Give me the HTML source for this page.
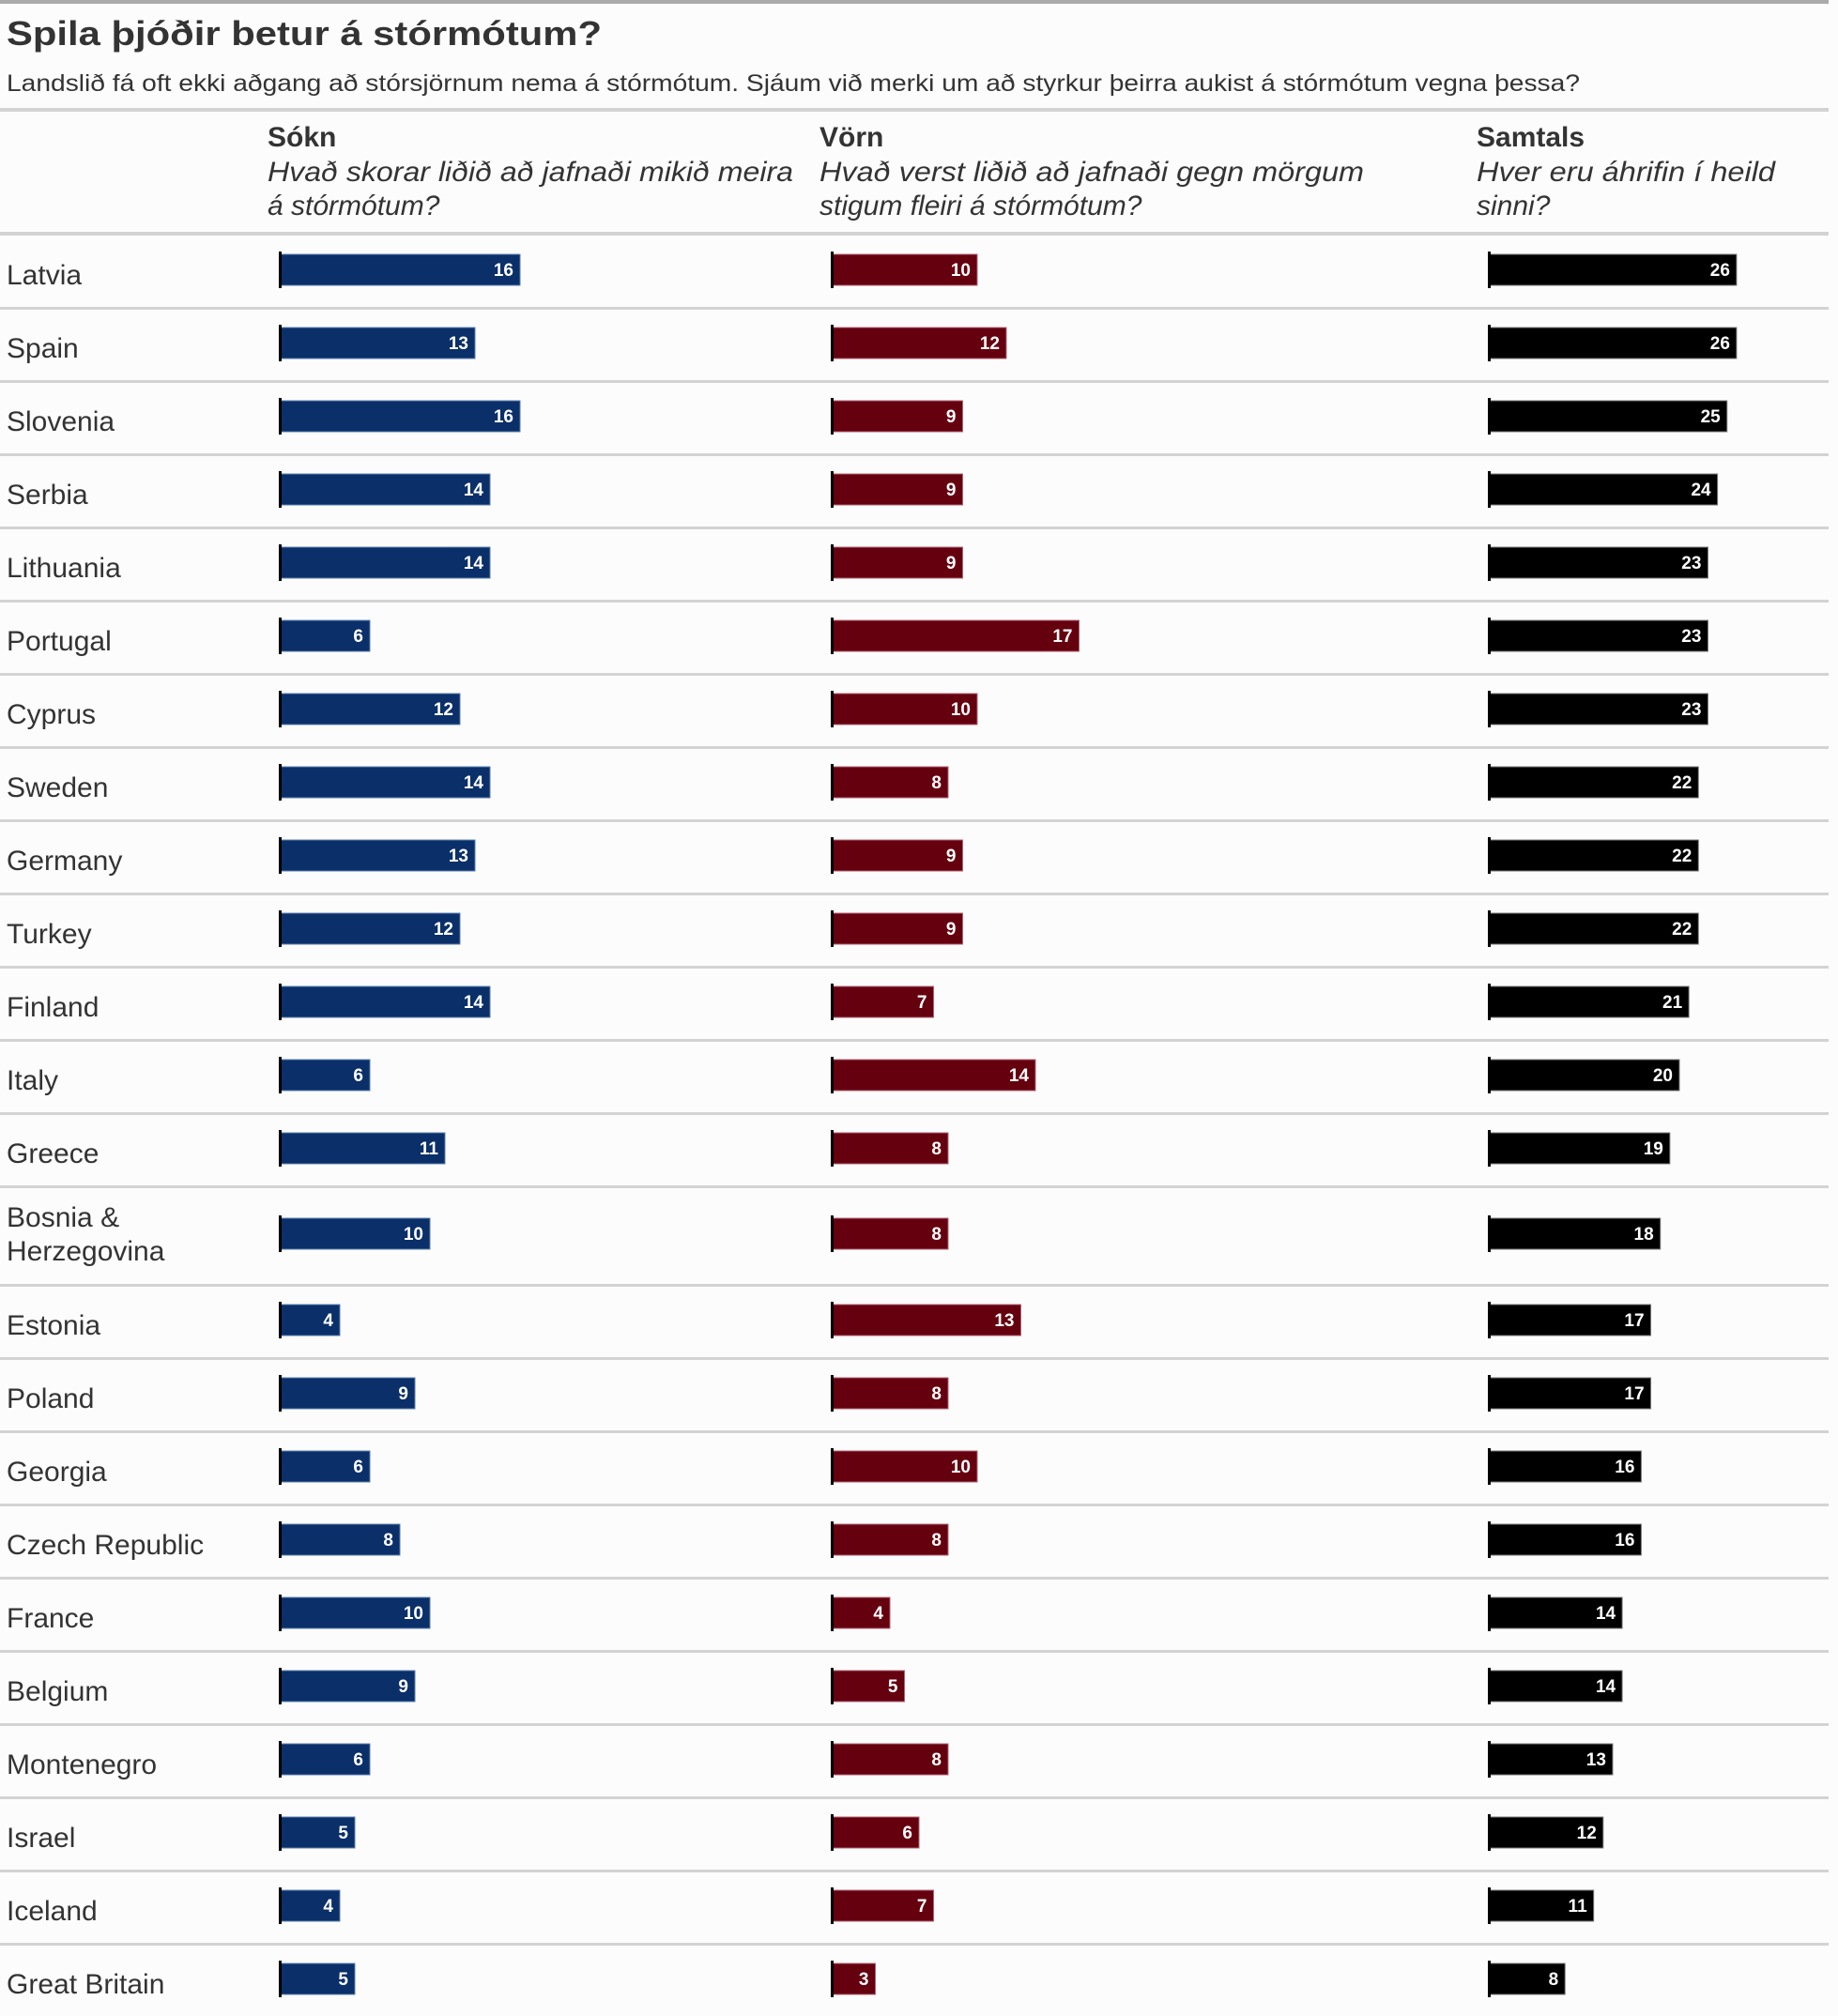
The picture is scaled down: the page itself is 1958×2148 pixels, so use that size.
<!DOCTYPE html>
<html><head><meta charset="utf-8"><style>
html,body{margin:0;padding:0;background:#fcfcfc;}
svg{display:block;font-family:"Liberation Sans",sans-serif;}
</style></head><body>
<svg id="chart" width="1958" height="2148" viewBox="0 0 1958 2148">
<rect x="0" y="0" width="1958" height="2148" fill="#fcfcfc"/>
<rect x="0" y="0" width="1948" height="4" fill="#aaaaaa"/>
<text x="7" y="48" font-size="36" font-weight="bold" fill="#333" textLength="634" lengthAdjust="spacingAndGlyphs">Spila þjóðir betur á stórmótum?</text>
<text x="7" y="97" font-size="25" fill="#333" textLength="1676" lengthAdjust="spacingAndGlyphs">Landslið fá oft ekki aðgang að stórsjörnum nema á stórmótum. Sjáum við merki um að styrkur þeirra aukist á stórmótum vegna þessa?</text>
<rect x="0" y="115" width="1948" height="4" fill="#d3d3d3"/>
<text x="285" y="156" font-size="30" font-weight="bold" fill="#333">Sókn</text>
<text x="285" y="193" font-size="30" font-style="italic" fill="#333" textLength="560" lengthAdjust="spacingAndGlyphs">Hvað skorar liðið að jafnaði mikið meira</text>
<text x="285" y="229" font-size="30" font-style="italic" fill="#333">á stórmótum?</text>
<text x="873" y="156" font-size="30" font-weight="bold" fill="#333">Vörn</text>
<text x="873" y="193" font-size="30" font-style="italic" fill="#333" textLength="580" lengthAdjust="spacingAndGlyphs">Hvað verst liðið að jafnaði gegn mörgum</text>
<text x="873" y="229" font-size="30" font-style="italic" fill="#333">stigum fleiri á stórmótum?</text>
<text x="1573" y="156" font-size="30" font-weight="bold" fill="#333">Samtals</text>
<text x="1573" y="193" font-size="30" font-style="italic" fill="#333" textLength="318" lengthAdjust="spacingAndGlyphs">Hver eru áhrifin í heild</text>
<text x="1573" y="229" font-size="30" font-style="italic" fill="#333">sinni?</text>
<rect x="0" y="247" width="1948" height="4" fill="#d3d3d3"/>
<g id="rows"></g>
</svg>
<script>
const countries = ["Latvia","Spain","Slovenia","Serbia","Lithuania","Portugal","Cyprus","Sweden","Germany","Turkey","Finland","Italy","Greece","Bosnia & Herzegovina","Estonia","Poland","Georgia","Czech Republic","France","Belgium","Montenegro","Israel","Iceland","Great Britain"];
const soknValues = [16,13,16,14,14,6,12,14,13,12,14,6,11,10,4,9,6,8,10,9,6,5,4,5];
const vornValues = [10,12,9,9,9,17,10,8,9,9,7,14,8,8,13,8,10,8,4,5,8,6,7,3];
const samtalsValues = [26,26,25,24,23,23,23,22,22,22,21,20,19,18,17,17,16,16,14,14,13,12,11,8];

const NS = "http://www.w3.org/2000/svg";
const g = document.getElementById("rows");
const cols = [
  {key:"sokn", vals:soknValues, x0:298, k:16.0, color:"#0a2f69", edge:"#5a7fb0"},
  {key:"vorn", vals:vornValues, x0:886, k:15.5, color:"#65000f", edge:"#b06070"},
  {key:"samtals", vals:samtalsValues, x0:1586, k:10.15, color:"#000000", edge:"#777"}
];
function xScale(c, v){ return v * c.k; }
function mk(tag, attrs){ const e=document.createElementNS(NS,tag); for(const a in attrs) e.setAttribute(a, attrs[a]); return e; }

let y = 251;
countries.forEach((name, i) => {
  const tall = name.indexOf("&") >= 0;
  const h = tall ? 105 : 78;
  const cy = y + 36 + (tall ? 13 : 0);
  const slug = name.toLowerCase().replace(/[^a-z]+/g,"-");
  if (tall) {
    const parts = name.split("& ");
    const t1 = mk("text",{x:7,y:cy-7,"font-size":30,fill:"#333"});
    t1.textContent = parts[0] + "&";
    
    
    g.appendChild(t1);
    const t2 = mk("text",{x:7,y:cy+29,"font-size":30,fill:"#333"});
    t2.textContent = parts[1];
    
    
    g.appendChild(t2);
  } else {
    const t = mk("text",{x:7,y:cy+16,"font-size":30,fill:"#333"});
    t.textContent = name;
    
    
    g.appendChild(t);
  }
  cols.forEach(c => {
    const v = c.vals[i];
    const w = xScale(c, v);
    const bar = mk("rect",{x:c.x0,y:cy-16,width:w,height:33,fill:c.color,stroke:c.edge,"stroke-width":1});
    
    
    g.appendChild(bar);
    const tick = mk("rect",{x:c.x0-1,y:cy-19,width:3,height:39,fill:"#000"});
    
    
    g.appendChild(tick);
    const lbl = mk("text",{x:c.x0+w-7,y:cy+7,"font-size":19,"font-weight":"bold",fill:"#fff","text-anchor":"end"});
    lbl.textContent = v;
    
    
    g.appendChild(lbl);
  });
  y += h;
  const last = i === countries.length - 1;
  const line = mk("rect",{x:0,y:y-2,width:1948,height:last?4:3,fill:"#d3d3d3"});
  
  
  g.appendChild(line);
});
</script>
</body></html>
